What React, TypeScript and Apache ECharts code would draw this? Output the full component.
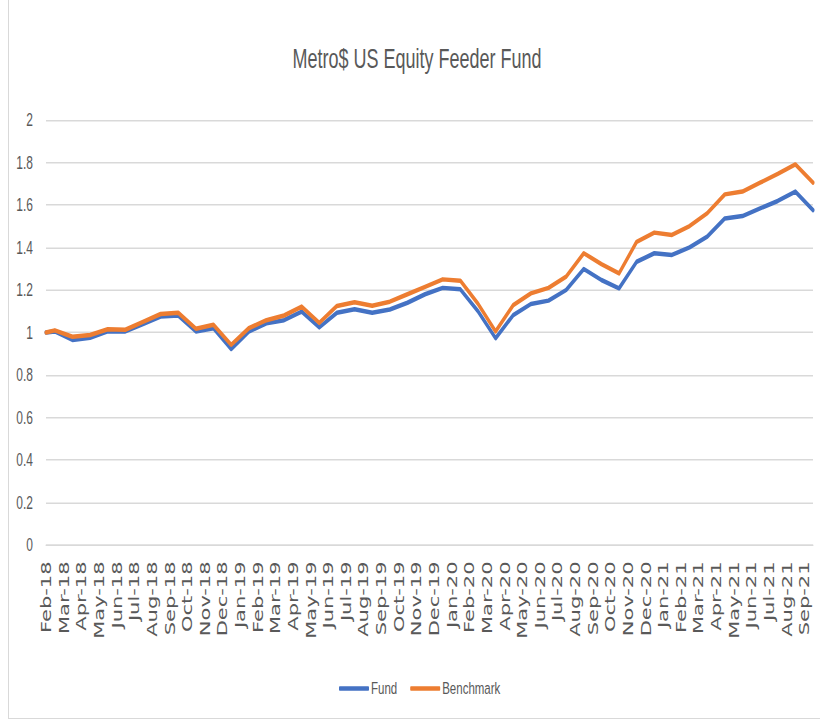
import React, { useEffect, useRef } from "react";
import * as echarts from "echarts";

const title = "Metro$ US Equity Feeder Fund";

const months = [
  "Feb-18", "Mar-18", "Apr-18", "May-18", "Jun-18", "Jul-18", "Aug-18", "Sep-18", "Oct-18", "Nov-18", "Dec-18",
  "Jan-19", "Feb-19", "Mar-19", "Apr-19", "May-19", "Jun-19", "Jul-19", "Aug-19", "Sep-19", "Oct-19", "Nov-19", "Dec-19",
  "Jan-20", "Feb-20", "Mar-20", "Apr-20", "May-20", "Jun-20", "Jul-20", "Aug-20", "Sep-20", "Oct-20", "Nov-20", "Dec-20",
  "Jan-21", "Feb-21", "Mar-21", "Apr-21", "May-21", "Jun-21", "Jul-21", "Aug-21", "Sep-21",
];

// first value = inception, then one value per month (plotted mid-month)
const fund = [
  1.0, 1.005, 0.965, 0.975, 1.005, 1.005, 1.04, 1.075, 1.08, 1.005,
  1.02, 0.922, 1.004, 1.043, 1.058, 1.098, 1.024, 1.093, 1.109, 1.093,
  1.108, 1.14, 1.18, 1.21, 1.203, 1.1, 0.973, 1.082, 1.134, 1.15,
  1.2, 1.299, 1.247, 1.208, 1.333, 1.373, 1.365, 1.401, 1.451, 1.537,
  1.548, 1.584, 1.619, 1.663, 1.576,
];

const benchmark = [
  1.0, 1.01, 0.98, 0.988, 1.015, 1.013, 1.05, 1.087, 1.093, 1.018,
  1.036, 0.942, 1.02, 1.058, 1.08, 1.122, 1.045, 1.125, 1.142, 1.126,
  1.145, 1.18, 1.215, 1.25, 1.244, 1.135, 1.005, 1.129, 1.184, 1.21,
  1.263, 1.373, 1.322, 1.278, 1.427, 1.47, 1.459, 1.501, 1.561, 1.65,
  1.663, 1.705, 1.746, 1.791, 1.705,
];

const seriesNames = ["Fund", "Benchmark"];
const colors = ["#4472C4", "#ED7D31"];

const xPos = (k: number) => (k === 0 ? 0 : k - 0.5);

const STRETCH = 1.5;
const W = 820;
const H = 723;

export default function App() {
  const ref = useRef<HTMLDivElement>(null);

  useEffect(() => {
    if (!ref.current) return;
    const chart = echarts.init(ref.current, undefined, { renderer: "svg" });
    const textColor = "#595959";
    const sans = "'Liberation Sans', Arial, sans-serif";
    chart.setOption({
      animation: false,
      title: {
        text: title,
        left: 417,
        textAlign: "center",
        top: 30,
        padding: 0,
        textStyle: { fontFamily: sans, fontSize: 18, fontWeight: "normal", color: textColor },
      },
      legend: {
        data: seriesNames,
        left: 339,
        top: 453,
        padding: 0,
        icon: "roundRect",
        itemWidth: 30,
        itemHeight: 3,
        itemGap: 13,
        textStyle: { fontFamily: sans, fontSize: 11.5, color: textColor, padding: [0, 0, 0, -3] },
      },
      grid: { left: 46, right: 7, top: 80, bottom: H / STRETCH - 545 / STRETCH, containLabel: false },
      xAxis: {
        type: "value",
        min: 0,
        max: months.length - 0.5,
        interval: 1,
        splitLine: { show: false },
        axisTick: { show: false },
        axisLine: { show: true, lineStyle: { color: "#d9d9d9", width: 1 } },
        axisLabel: {
          rotate: 90,
          margin: 11,
          fontFamily: "'DejaVu Sans', Verdana, sans-serif",
          fontSize: 14,
          color: textColor,
          showMaxLabel: false,
          formatter: (v: number) => (Number.isInteger(v) && months[v] ? months[v] : ""),
        },
      },
      yAxis: {
        type: "value",
        min: 0,
        max: 2,
        interval: 0.2,
        axisLine: { show: false },
        axisTick: { show: false },
        splitLine: { lineStyle: { color: "#d9d9d9", width: 1 } },
        axisLabel: { margin: 13, fontFamily: sans, fontSize: 12, color: textColor },
      },
      series: [fund, benchmark].map((vals, si) => ({
        name: seriesNames[si],
        type: "line",
        data: vals.map((v, k) => [xPos(k), v]),
        showSymbol: false,
        symbol: "none",
        color: colors[si],
        lineStyle: { color: colors[si], width: 3, join: "round", cap: "round" },
      })),
    });
    return () => chart.dispose();
  }, []);

  return (
    <div style={{ position: "fixed", left: 0, top: 0, width: W, height: H, overflow: "hidden", background: "#fff" }}>
      <div style={{ position: "absolute", left: 8, top: 0, width: 0, height: 719, borderLeft: "1px solid #d9d9d9" }} />
      <div style={{ position: "absolute", left: 8, top: 718, width: W - 8, height: 0, borderTop: "1px solid #d9d9d9" }} />
      <div
        ref={ref}
        style={{
          position: "absolute",
          left: 0,
          top: 0,
          width: W,
          height: H / STRETCH,
          transform: `scaleY(${STRETCH})`,
          transformOrigin: "0 0",
        }}
      />
    </div>
  );
}
